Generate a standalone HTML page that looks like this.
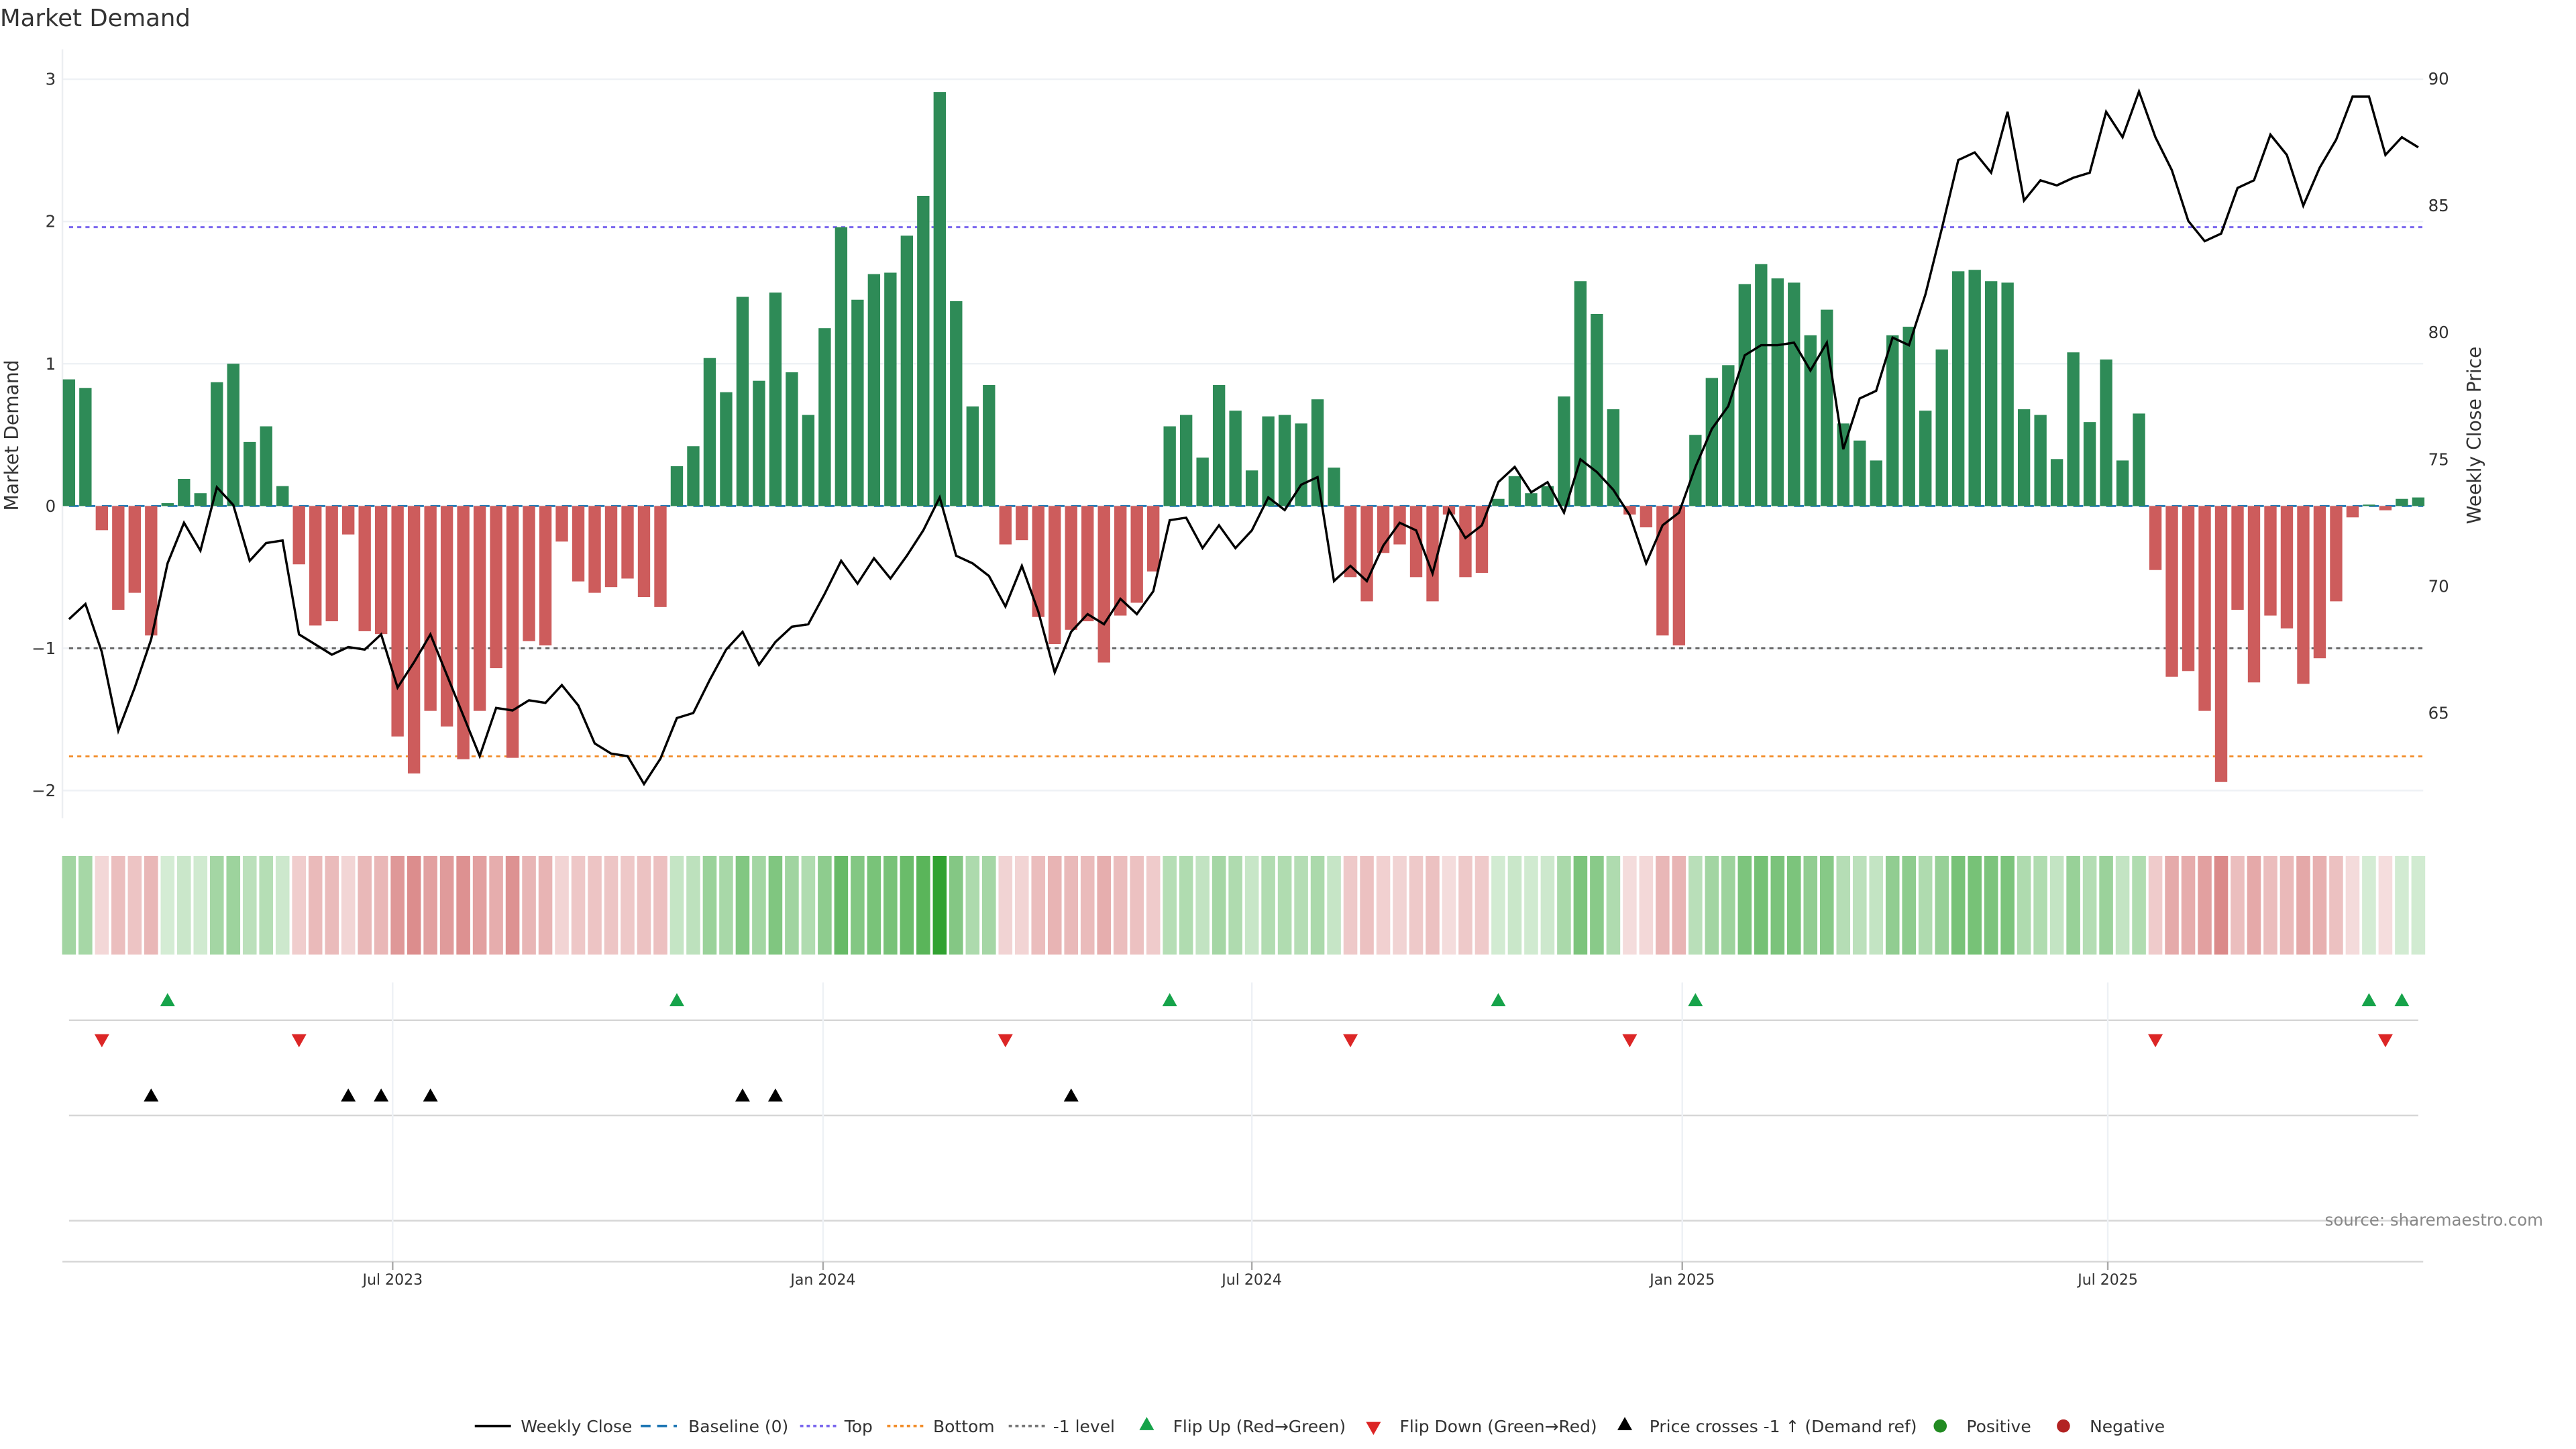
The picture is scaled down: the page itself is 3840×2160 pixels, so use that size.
<!DOCTYPE html>
<html><head><meta charset="utf-8"><style>
html,body{margin:0;padding:0;background:#fff;}
svg{display:block;font-family:"DejaVu Sans","Liberation Sans",sans-serif;}
</style></head><body>
<svg id="chart" xmlns="http://www.w3.org/2000/svg" width="3840" height="2160" viewBox="0 0 1568 882" preserveAspectRatio="none">
<text x="0" y="16" font-size="14.5" fill="#333">Market Demand</text>
<g id="grid"></g>
<g id="refs"></g>
<g id="bars"></g>
<g id="price"></g>
<g id="heat"></g>
<g id="markers"></g>
<g id="axes"></g>
<text transform="translate(11,265) rotate(-90)" text-anchor="middle" font-size="11.5" fill="#333">Market Demand</text>
<text transform="translate(1510,265) rotate(-90)" text-anchor="middle" font-size="11.5" fill="#333">Weekly Close Price</text>
<text x="1548" y="746" text-anchor="end" font-size="10" fill="#888">source: sharemaestro.com</text>
<g id="legend"></g>
</svg>
<script>
const demand = [0.89,0.83,-0.17,-0.73,-0.61,-0.91,0.02,0.19,0.09,0.87,1.0,0.45,0.56,0.14,
-0.41,-0.84,-0.81,-0.2,-0.88,-0.9,-1.62,-1.88,-1.44,-1.55,-1.78,-1.44,-1.14,-1.77,-0.95,-0.98,-0.25,-0.53,-0.61,-0.57,-0.51,-0.64,-0.71,
0.28,0.42,1.04,0.8,1.47,0.88,1.5,0.94,0.64,1.25,1.96,1.45,1.63,1.64,1.9,2.18,2.91,1.44,0.7,0.85,
-0.27,-0.24,-0.78,-0.97,-0.87,-0.81,-1.1,-0.77,-0.68,-0.46,
0.56,0.64,0.34,0.85,0.67,0.25,0.63,0.64,0.58,0.75,0.27,
-0.5,-0.67,-0.33,-0.27,-0.5,-0.67,-0.06,-0.5,-0.47,
0.05,0.21,0.09,0.14,0.77,1.58,1.35,0.68,
-0.06,-0.15,-0.91,-0.98,
0.5,0.9,0.99,1.56,1.7,1.6,1.57,1.2,1.38,0.58,0.46,0.32,1.2,1.26,0.67,1.1,1.65,1.66,1.58,1.57,0.68,0.64,0.33,1.08,0.59,1.03,0.32,0.65,
-0.45,-1.2,-1.16,-1.44,-1.94,-0.73,-1.24,-0.77,-0.86,-1.25,-1.07,-0.67,-0.08,
0.01,-0.03,0.05,0.06];
const closePrice = [68.7,69.3,67.4,64.3,66.0,67.9,70.9,72.5,71.4,73.9,73.2,71.0,71.7,71.8,68.1,67.7,67.3,67.6,67.5,68.1,
66.0,67.0,68.1,66.5,64.9,63.3,65.2,65.1,65.5,65.4,66.1,65.3,63.8,63.4,63.3,62.2,63.2,64.8,65.0,66.3,
67.5,68.2,66.9,67.8,68.4,68.5,69.7,71.0,70.1,71.1,70.3,71.2,72.2,73.5,71.2,70.9,70.4,69.2,70.8,69.0,
66.6,68.2,68.9,68.5,69.5,68.9,69.8,72.6,72.7,71.5,72.4,71.5,72.2,73.5,73.0,74.0,74.3,70.2,70.8,70.2,
71.6,72.5,72.2,70.5,73.0,71.9,72.4,74.1,74.7,73.7,74.1,72.9,75.0,74.5,73.8,72.8,70.9,72.4,72.9,74.7,
76.2,77.1,79.1,79.5,79.5,79.6,78.5,79.6,75.4,77.4,77.7,79.8,79.5,81.5,84.1,86.8,87.1,86.3,88.7,85.2,
86.0,85.8,86.1,86.3,88.7,87.7,89.5,87.7,86.4,84.4,83.6,83.9,85.7,86.0,87.8,87.0,85.0,86.5,87.6,89.3,
89.3,87.0,87.7,87.3];
const priceCrossIdx = [5,17,19,22,41,43,61];
const leftTicks = [3,2,1,0,-1,-2];
const rightTicks = [90,85,80,75,70,65];
const dateLabels = ["Jul 2023","Jan 2024","Jul 2024","Jan 2025","Jul 2025"];
const dateIdx = [19.7,45.9,72.0,98.2,124.1];
const levelTop = 1.96, levelBottom = -1.76, levelNeg = -1;

const NS = "http://www.w3.org/2000/svg";
function mk(tag, attrs, parent){const e=document.createElementNS(NS,tag);for(const k in attrs)e.setAttribute(k,attrs[k]);parent.appendChild(e);return e;}
const xOf = i => 42 + i*10.0;
const yL = v => 308 - v*86.6;
const yR = p => 48 + (90-p)*15.44;
const G = id => document.getElementById(id);
const X0=38, X1=1475;

// grid + ticks
leftTicks.forEach(t=>{
  const l=mk('line',{x1:X0,x2:X1,y1:yL(t),y2:yL(t),stroke:'#eef1f5','stroke-width':1},G('grid'));
  
  
  const tx=mk('text',{x:34,y:yL(t)+3.5,'text-anchor':'end','font-size':10,fill:'#333'},G('axes'));
  tx.textContent = t<0 ? '\u2212'+Math.abs(t) : String(t);
  
  
});
rightTicks.forEach(t=>{
  const tx=mk('text',{x:1478,y:yR(t)+3.5,'font-size':10,fill:'#333'},G('axes'));
  tx.textContent=String(t);
  
  
});
const va=mk('line',{x1:X0,x2:X0,y1:30,y2:498,stroke:'#eceef1','stroke-width':1},G('grid'));



// reference lines
[[levelTop,'#7b68ee'],[levelBottom,'#f28e2b'],[levelNeg,'#666']].forEach(([v,c])=>{
  const l=mk('line',{x1:42,x2:X1,y1:yL(v),y2:yL(v),stroke:c,'stroke-width':1.2,'stroke-dasharray':'2.5,2.5'},G('refs'));
  
  
});

// bars
demand.forEach((v,i)=>{
  const y0=yL(0), y1=yL(v);
  const r=mk('rect',{x:xOf(i)-3.75,width:7.5,y:Math.min(y0,y1),height:Math.max(0.4,Math.abs(y1-y0)),fill:v>=0?'#2e8b57':'#cd5c5c'},G('bars'));
  
  
});
const bl=mk('line',{x1:42,x2:X1,y1:yL(0),y2:yL(0),stroke:'#1f77b4','stroke-width':1.2,'stroke-dasharray':'6,4'},G('refs'));



// price line
const pts=closePrice.map((p,i)=>xOf(i)+','+yR(p)).join(' ');
const pl=mk('polyline',{points:pts,fill:'none',stroke:'#000','stroke-width':1.4,'stroke-linejoin':'miter'},G('price'));



// heatmap
demand.forEach((v,i)=>{
  const a=Math.min(1,0.2+0.8*Math.abs(v)/3);
  const c=v>=0?`rgba(44,160,44,${a})`:`rgba(205,92,92,${a})`;
  const r=mk('rect',{x:xOf(i)-4.2,width:8.4,y:521,height:60,fill:c},G('heat'));
  
  
});

// lower panel lines
[621,679,743].forEach(y=>{
  const l=mk('line',{x1:42,x2:1472,y1:y,y2:y,stroke:'#d6d6d6','stroke-width':1},G('grid'));
  
  
});
const xa=mk('line',{x1:X0,x2:X1,y1:768,y2:768,stroke:'#d6d6d6','stroke-width':1},G('axes'));


dateLabels.forEach((lab,k)=>{
  const x=xOf(dateIdx[k]);
  const g=mk('line',{x1:x,x2:x,y1:598,y2:768,stroke:'#eef1f5','stroke-width':1},G('grid'));
  
  
  const tk=mk('line',{x1:x,x2:x,y1:768,y2:773,stroke:'#aaa','stroke-width':1},G('axes'));
  
  
  const t=mk('text',{x:x,y:782,'text-anchor':'middle','font-size':9,fill:'#333'},G('axes'));
  t.textContent=lab;
  
  
});

// markers
function tri(x,y,up,color,parent,name){
  const d=up?`M${x},${y-4.5} L${x+4.5},${y+3.5} L${x-4.5},${y+3.5} Z`:`M${x},${y+4.5} L${x+4.5},${y-3.5} L${x-4.5},${y-3.5} Z`;
  const p=mk('path',{d:d,fill:color},parent);
  return p;
}
for(let i=1;i<demand.length;i++){
  if(demand[i]>=0 && demand[i-1]<0){
    const p=tri(xOf(i),609,true,'#16a34a',G('markers'));
    
    
  }
  if(demand[i]<0 && demand[i-1]>=0){
    const p=tri(xOf(i),633,false,'#dc2626',G('markers'));
    
    
  }
}
priceCrossIdx.forEach(i=>{
  const p=tri(xOf(i),667,true,'#000',G('markers'));
  
  
});

// legend
const LY=868, L=G('legend');
function ltext(x,s){const t=mk('text',{x:x,y:LY+3.8,'font-size':10.2,fill:'#333'},L);t.textContent=s;}
let e;
e=mk('line',{x1:289,x2:311,y1:LY,y2:LY,stroke:'#000','stroke-width':1.5},L);ltext(317,'Weekly Close');
e=mk('line',{x1:390,x2:412,y1:LY,y2:LY,stroke:'#1f77b4','stroke-width':1.5,'stroke-dasharray':'6,4'},L);ltext(419,'Baseline (0)');
e=mk('line',{x1:487,x2:509,y1:LY,y2:LY,stroke:'#7b68ee','stroke-width':1.5,'stroke-dasharray':'2,2'},L);ltext(514,'Top');
e=mk('line',{x1:540,x2:562,y1:LY,y2:LY,stroke:'#f28e2b','stroke-width':1.5,'stroke-dasharray':'2,2'},L);ltext(568,'Bottom');
e=mk('line',{x1:614,x2:636,y1:LY,y2:LY,stroke:'#777','stroke-width':1.5,'stroke-dasharray':'2,2'},L);ltext(641,'-1 level');
e=tri(698,LY-1,true,'#16a34a',L);ltext(714,'Flip Up (Red\u2192Green)');
e=tri(836,LY+1,false,'#dc2626',L);ltext(852,'Flip Down (Green\u2192Red)');
e=tri(989,LY-1,true,'#000',L);ltext(1004,'Price crosses -1 \u2191 (Demand ref)');
e=mk('circle',{cx:1181,cy:LY,r:4,fill:'#228b22'},L);ltext(1197,'Positive');
e=mk('circle',{cx:1256,cy:LY,r:4,fill:'#b22222'},L);ltext(1272,'Negative');
</script>
</body></html>
